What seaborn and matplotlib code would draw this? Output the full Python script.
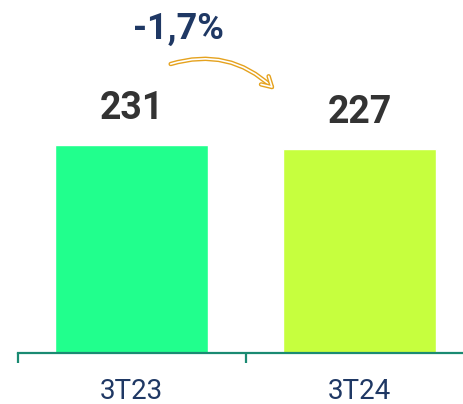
import matplotlib
matplotlib.use("Agg")
import matplotlib.pyplot as plt
import matplotlib.patheffects as pe
import seaborn as sns
import pandas as pd

periods = ["3T23", "3T24"]
values = [231, 227]
bar_colors = ["#21FF8D", "#C6FF3E"]
change_label = "-1,7%"

NAVY = "#1F3864"
DARK = "#333333"
TEAL = "#1A8A72"
GOLD = "#E5A21E"

sns.set_style("white")
plt.rcParams["font.family"] = ["Roboto", "DejaVu Sans"]

df = pd.DataFrame({"period": periods, "value": values})

fig = plt.figure(figsize=(4.63, 4.04), dpi=100)
ax = fig.add_axes([0, 51 / 404, 1, 353 / 404])

sns.barplot(data=df, x="period", y="value", hue="period", palette=bar_colors,
            width=0.67, legend=False, ax=ax, saturation=1)

ax.set_xlim(-0.577, 1.454)
ax.set_ylim(0, 392)

# value labels above the bars
for i, v in enumerate(values):
    ax.annotate(f"{v}", xy=(i, v), xytext=(0, 13), textcoords="offset points",
                ha="center", va="bottom", fontsize=27, fontweight="bold", color=DARK)

# change label and curved arrow
ax.text(0.204, 360, change_label, ha="center", va="center", fontsize=26,
        fontweight="bold", color=NAVY)
ax.annotate("", xy=(0.63, 292), xytext=(0.16, 320),
            arrowprops=dict(arrowstyle="->,head_length=0.7,head_width=0.4",
                            connectionstyle="arc3,rad=-0.3", color="white", lw=1.2,
                            path_effects=[pe.Stroke(linewidth=3.2, foreground=GOLD),
                                          pe.Normal()]))

for s in ["top", "right", "left"]:
    ax.spines[s].set_visible(False)
ax.spines["bottom"].set_color(TEAL)
ax.spines["bottom"].set_linewidth(1.6)
ax.spines["bottom"].set_bounds(-0.5, 1.454)

ax.set_yticks([])
ax.set_xticks([-0.5, 0.5])
ax.set_xticklabels([])
ax.tick_params(axis="x", which="major", bottom=True, length=7, width=1.6,
               color=TEAL, direction="out")
ax.set_xticks([0, 1], minor=True)
ax.set_xticklabels(periods, minor=True)
ax.tick_params(axis="x", which="minor", bottom=True, length=0, pad=18,
               labelsize=20, labelcolor=NAVY)
ax.set_xlabel("")
ax.set_ylabel("")

fig.savefig("out.png", dpi=100)
